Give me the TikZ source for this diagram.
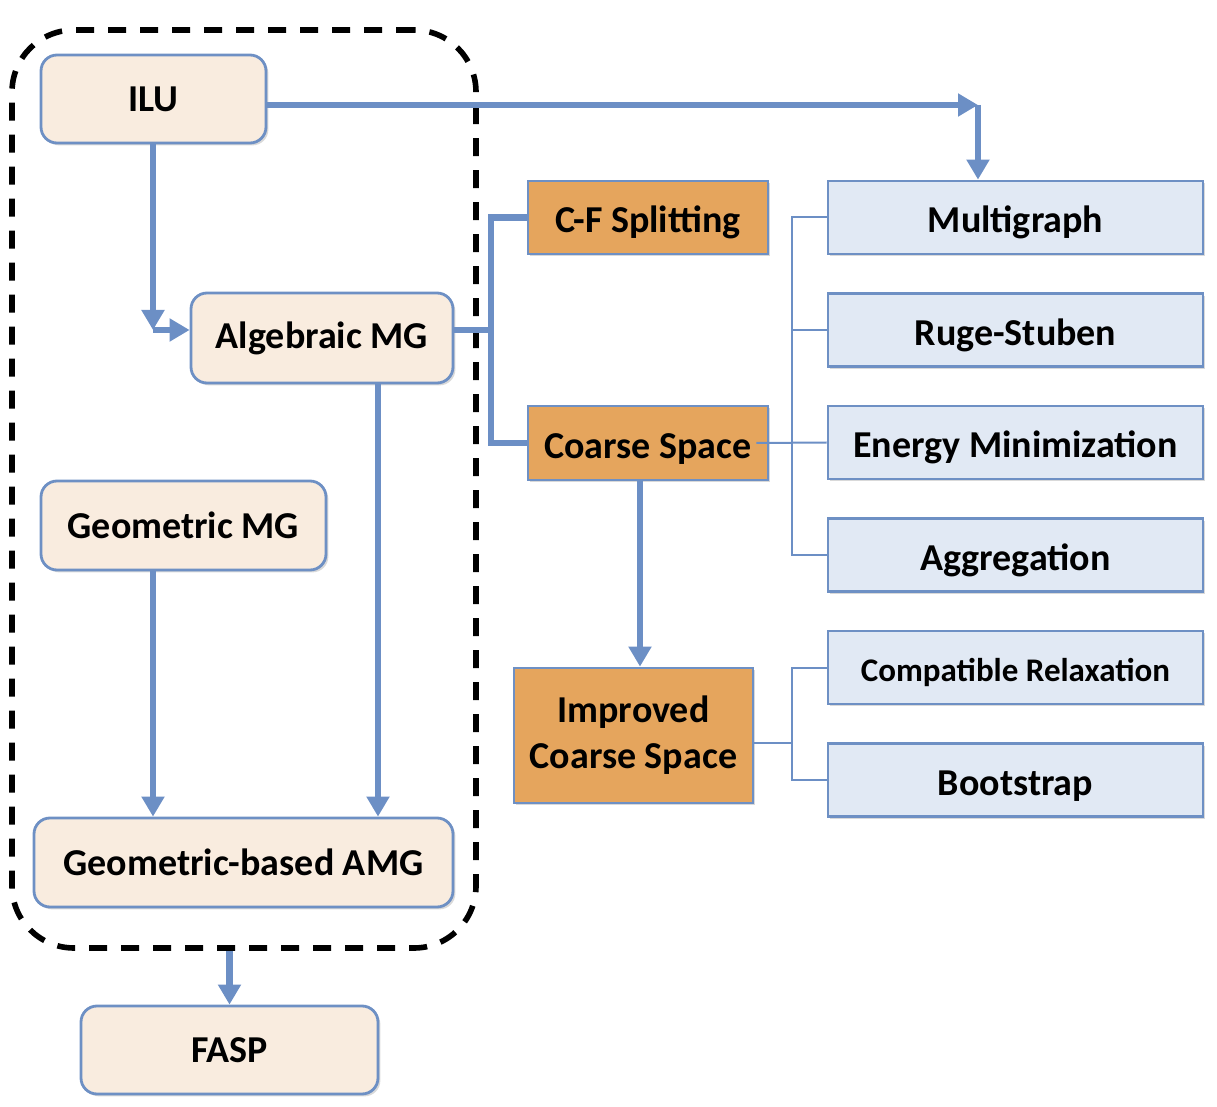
\documentclass[tikz,border=0pt]{standalone}
\usepackage{fontspec}
\setmainfont{Carlito}
\usetikzlibrary{arrows.meta,shadows,calc}
\definecolor{bord}{HTML}{6E90C4}
\definecolor{cream}{HTML}{F9ECDF}
\definecolor{orng}{HTML}{E5A55D}
\definecolor{lblue}{HTML}{E1E9F4}
\definecolor{lnblue}{HTML}{6C8FC5}
\tikzset{
  shad/.style={drop shadow={opacity=0.3,shadow xshift=1.2pt,shadow yshift=-1.2pt}},
  creambox/.style={draw=bord,line width=1.4pt,fill=cream,rounded corners=8pt,shad,
    font=\bfseries\fontsize{19}{22}\selectfont,align=center,inner sep=0pt},
  orbox/.style={draw=bord,line width=1.4pt,fill=orng,shad,
    font=\bfseries\fontsize{19}{23}\selectfont,align=center,inner sep=0pt},
  flatalign/.style={text height=15.5pt,text depth=0pt},
  bluebox/.style={draw=bord,line width=1.4pt,fill=lblue,shad,flatalign,
    font=\bfseries\fontsize{19}{22}\selectfont,align=center,inner sep=0pt,
    minimum width=187.5pt,minimum height=36.5pt},
  thickln/.style={draw=lnblue,line width=3.3pt},
  thinln/.style={draw=lnblue,line width=1pt},
  arr/.style={thickln,-{Triangle[length=10pt,width=11pt]}},
}
\begin{document}
\begin{tikzpicture}[x=0.5pt,y=-0.5pt]
\useasboundingbox (0,0) rectangle (1217,1107);
% dashed group
\node[draw=black,line width=2.8pt,dash pattern=on 9pt off 7pt,rounded corners=31pt,
  minimum width=232pt,minimum height=459pt,inner sep=0pt] (grp) at (244,489) {};
% left boxes
\node[creambox,minimum width=112.5pt,minimum height=44pt] (ilu) at (153.5,99) {ILU};
\node[creambox,minimum width=131pt,minimum height=45pt] (amg) at (322,338) {Algebraic MG};
\node[creambox,minimum width=142.5pt,minimum height=44.5pt] (gmg) at (183.5,525.5) {Geometric MG};
\node[creambox,minimum width=209.5pt,minimum height=44.5pt] (gamg) at (243.5,862.5) {Geometric-based AMG};
\node[creambox,minimum width=148.5pt,minimum height=44pt] (fasp) at (229.5,1050) {FASP};
% orange boxes
\node[orbox,flatalign,minimum width=120pt,minimum height=36.5pt] (cf) at (648,217.5) {C-F Splitting};
\node[orbox,flatalign,minimum width=120pt,minimum height=37pt] (cs) at (648,443) {Coarse Space};
\node[orbox,minimum width=119.5pt,minimum height=67.5pt] (ics) at (633.5,735.5) {Improved\\Coarse Space};
% blue boxes
\node[bluebox] (mg) at (1015.5,217.5) {Multigraph};
\node[bluebox] (rs) at (1015.5,330) {Ruge-Stuben};
\node[bluebox] (em) at (1015.5,442.5) {Energy Minimization};
\node[bluebox] (ag) at (1015.5,555) {Aggregation};
\node[bluebox,font=\bfseries\fontsize{16.5}{20}\selectfont,text height=13.5pt] (cr) at (1015.5,667.5) {Compatible Relaxation};
\node[bluebox] (bs) at (1015.5,780) {Bootstrap};
% coordinates
\coordinate (c1) at (978,105);
\coordinate (c2) at (153,330);
\coordinate (j1) at (491,330);
\coordinate (j2) at (792,443);
\coordinate (j3) at (792,743);
\coordinate (c3) at (640,0);
% ILU connections
\draw[arr] (ilu.east |- c1) -- (c1);
\draw[arr] (c1) -- (c1 |- mg.north);
\draw[arr] (ilu.south -| c2) -- (c2);
\draw[arr] (c2) -- (amg.west |- c2);
% AMG to splitting / coarse
\draw[thickln] (amg.east |- j1) -- (j1);
\draw[thickln] (cf.west) -| (j1) |- (cs.west);
% coarse to improved
\draw[arr] (cs.south -| c3) -- (ics.north -| c3);
% coarse to right
\draw[thinln] ([xshift=-6.5pt]cs.east) -- (em.west);
\draw[thinln] (mg.west) -| (j2) |- (ag.west);
\draw[thinln] (rs.west) -- (rs.west -| j2);
% improved to right
\draw[thinln] (ics.east |- j3) -- (j3);
\draw[thinln] (cr.west) -| (j3) |- (bs.west);
% geometric
\draw[arr] (gmg.south -| c2) -- (gamg.north -| c2);
\draw[arr] (amg.south -| 378,0) -- (gamg.north -| 378,0);
% group to FASP
\draw[arr] (grp.south -| fasp.north) -- (fasp.north);
\end{tikzpicture}
\end{document}
